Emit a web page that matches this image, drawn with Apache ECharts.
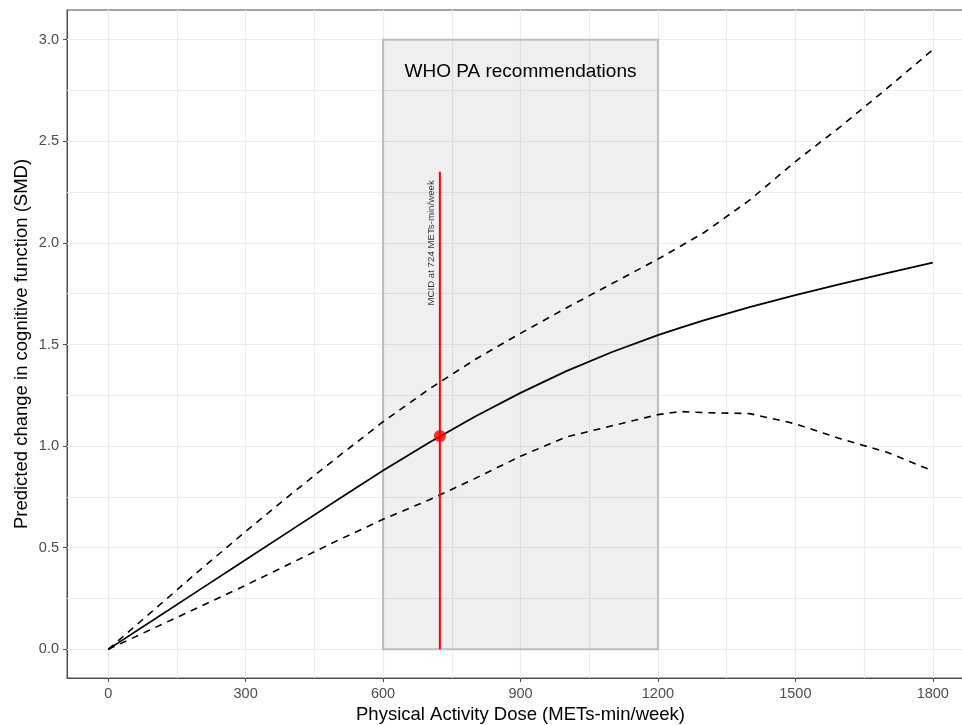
<!DOCTYPE html>
<html>
<head>
<meta charset="utf-8">
<script src="https://cdn.jsdelivr.net/npm/echarts@6/dist/echarts.min.js"></script>
<style>html,body{margin:0;padding:0;background:#fff}#c{width:962px;height:725px}</style>
</head>
<body>
<div id="c"></div>
<script>
// ---- data ----
const doses = [0,100,200,300,400,500,600,700,800,900,1000,1100,1200,1250,1300,1400,1500,1600,1700,1800];
const fitSMD   = [0,0.147,0.294,0.441,0.588,0.735,0.88,1.017,1.145,1.262,1.369,1.463,1.546,1.583,1.619,1.684,1.743,1.798,1.851,1.903];
const upperSMD = [0,0.195,0.39,0.58,0.765,0.945,1.12,1.28,1.425,1.555,1.68,1.80,1.92,1.985,2.05,2.21,2.40,2.575,2.76,2.95];
const lowerSMD = [0,0.105,0.21,0.315,0.425,0.535,0.64,0.735,0.84,0.95,1.045,1.10,1.155,1.17,1.165,1.16,1.11,1.035,0.97,0.878];
const whoRange = [600, 1200];
const whoTop = 3.0;
const whoLabel = "WHO PA recommendations";
const mcidDose = 724;
const mcidSMD = 1.05;
const mcidLineTop = 2.35;
const mcidLabel = "MCID at 724 METs-min/week";
const mcidLabelPos = [705, 2.0];
const xTicks = [0,300,600,900,1200,1500,1800];
const xMinor = [150,450,750,1050,1350,1650];
const yTicks = [0,0.5,1.0,1.5,2.0,2.5,3.0];
const yMinor = [0.25,0.75,1.25,1.75,2.25,2.75];
const xLimits = [-90, 1890];
const yLimits = [-0.141, 3.146];
const xTitle = "Physical Activity Dose (METs-min/week)";
const yTitle = "Predicted change in cognitive function (SMD)";

const FONT = "Liberation Sans, Arial, Helvetica, sans-serif";
const zip = (xs, ys) => xs.map((x, i) => [x, ys[i]]);

const gridLines = [];
xTicks.concat(xMinor).forEach(v => gridLines.push({xAxis: v}));
yTicks.concat(yMinor).forEach(v => gridLines.push({yAxis: v}));

const chart = echarts.init(document.getElementById('c'), null, {renderer: 'canvas'});
chart.setOption({
  animation: false,
  backgroundColor: '#ffffff',
  grid: {left: 67, top: 10, right: -12, bottom: 47, show: true, borderColor: '#4d4d4d', borderWidth: 1,
    backgroundColor: 'transparent', containLabel: false, outerBoundsMode: 'none'},
  xAxis: {
    type: 'value', min: xLimits[0], max: xLimits[1],
    splitLine: {show: false},
    axisLine: {show: true, onZero: false, lineStyle: {color: '#4d4d4d', width: 1}},
    axisTick: {show: true, length: 4, customValues: xTicks, lineStyle: {color: '#4d4d4d', width: 1}},
    axisLabel: {customValues: xTicks, color: '#4d4d4d', fontSize: 14.5, fontFamily: FONT, margin: 8,
      formatter: v => String(v)},
    name: xTitle, nameLocation: 'middle', nameGap: 22,
    nameTextStyle: {color: '#000', fontSize: 18.5, fontFamily: FONT, verticalAlign: 'top'}
  },
  yAxis: {
    type: 'value', min: yLimits[0], max: yLimits[1],
    splitLine: {show: false},
    axisLine: {show: true, onZero: false, lineStyle: {color: '#4d4d4d', width: 1}},
    axisTick: {show: true, length: 4, customValues: yTicks, lineStyle: {color: '#4d4d4d', width: 1}},
    axisLabel: {customValues: yTicks, color: '#4d4d4d', fontSize: 14.5, fontFamily: FONT, margin: 8,
      formatter: v => v.toFixed(1)},
    name: yTitle, nameLocation: 'middle', nameGap: 45, nameRotate: 90, nameMoveOverlap: false,
    nameTextStyle: {color: '#000', fontSize: 18.5, fontFamily: FONT, verticalAlign: 'middle'}
  },
  series: [
    {
      type: 'line', data: [], silent: true, z: 1,
      markLine: {silent: true, z: 1, symbol: ['none','none'], label: {show: false},
        lineStyle: {color: '#ebebeb', width: 1.2, type: 'solid'}, data: gridLines, animation: false}
    },
    {
      type: 'line', data: [], silent: true, z: 2,
      markArea: {silent: true, z: 2,
        label: {show: true, position: 'insideTop', distance: 24, formatter: whoLabel,
          color: '#000', fontSize: 19, fontFamily: FONT},
        itemStyle: {color: 'rgba(128,128,128,0.13)', borderColor: '#bdbdbd', borderWidth: 2},
        data: [[{coord: [whoRange[0], 0]}, {coord: [whoRange[1], whoTop]}]]}
    },
    {type: 'line', data: zip(doses, upperSMD), showSymbol: false, smooth: false, z: 3,
      lineStyle: {color: '#000', width: 1.6, type: [7, 6]}},
    {type: 'line', data: zip(doses, lowerSMD), showSymbol: false, smooth: false, z: 3,
      lineStyle: {color: '#000', width: 1.6, type: [7, 6]}},
    {type: 'line', data: zip(doses, fitSMD), showSymbol: false, smooth: false, z: 4,
      lineStyle: {color: '#000', width: 1.7}},
    {type: 'line', data: [[mcidDose, 0], [mcidDose, mcidLineTop]], showSymbol: false, z: 5,
      lineStyle: {color: '#ff0000', width: 2}},
    {type: 'scatter', data: [[mcidDose, mcidSMD]], symbolSize: 12, z: 6,
      itemStyle: {color: '#ff0000'}},
    {type: 'scatter', data: [mcidLabelPos], symbolSize: 0, z: 7, silent: true,
      label: {show: true, position: 'inside', rotate: 90, formatter: mcidLabel,
        color: '#000', fontSize: 9.7, fontFamily: FONT, align: 'center', verticalAlign: 'middle'}}
  ]
});
</script>
</body>
</html>
